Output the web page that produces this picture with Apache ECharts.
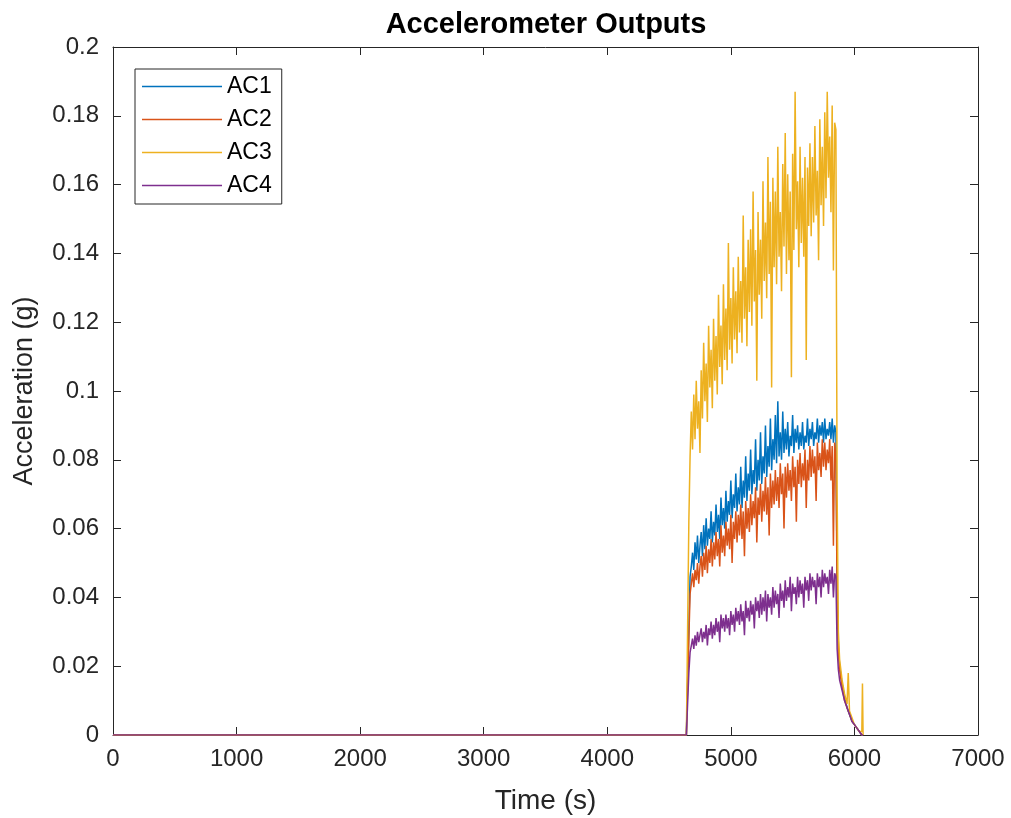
<!DOCTYPE html>
<html>
<head>
<meta charset="utf-8">
<title>Accelerometer Outputs</title>
<script src="https://cdn.jsdelivr.net/npm/echarts@6/dist/echarts.min.js"></script>
<style>
  html, body { margin: 0; padding: 0; background: #fff; }
  #chart { width: 1011px; height: 818px; }
</style>
</head>
<body>
<div id="chart"></div>
<script>
// idle period before the run (all sensors at zero)
const idleTime = [0, 4640, 4650];
const idleValue = [0, 0, 0];

// active period, sampled every 10 s from 4660 s to 5850 s
const runStart = 4660;
const runStep = 10;

const ac1Run = [
  0.031, 0.046, 0.049, 0.053, 0.048, 0.056, 0.051, 0.058, 0.050, 0.055,
  0.059, 0.052, 0.061, 0.054, 0.063, 0.055, 0.060, 0.057, 0.065, 0.056,
  0.062, 0.058, 0.067, 0.059, 0.064, 0.057, 0.069, 0.061, 0.066, 0.060,
  0.071, 0.062, 0.068, 0.064, 0.074, 0.063, 0.070, 0.066, 0.076, 0.065,
  0.072, 0.067, 0.078, 0.066, 0.074, 0.069, 0.081, 0.068, 0.076, 0.071,
  0.083, 0.070, 0.077, 0.073, 0.086, 0.071, 0.080, 0.074, 0.088, 0.073,
  0.081, 0.076, 0.090, 0.075, 0.084, 0.078, 0.092, 0.077, 0.086, 0.080,
  0.093, 0.079, 0.097, 0.081, 0.088, 0.080, 0.094, 0.082, 0.089, 0.083,
  0.091, 0.081, 0.087, 0.084, 0.093, 0.082, 0.089, 0.085, 0.090, 0.083,
  0.088, 0.084, 0.091, 0.083, 0.087, 0.085, 0.092, 0.084, 0.089, 0.086,
  0.091, 0.084, 0.088, 0.086, 0.092, 0.085, 0.090, 0.087, 0.091, 0.085,
  0.092, 0.086, 0.089, 0.087, 0.091, 0.086, 0.092, 0.085, 0.090, 0.088
];
const ac2Run = [
  0.028, 0.041, 0.044, 0.047, 0.043, 0.048, 0.045, 0.050, 0.044, 0.049,
  0.052, 0.046, 0.053, 0.048, 0.055, 0.047, 0.054, 0.050, 0.057, 0.049,
  0.056, 0.051, 0.059, 0.052, 0.057, 0.049, 0.061, 0.053, 0.058, 0.052,
  0.062, 0.055, 0.060, 0.054, 0.064, 0.050, 0.062, 0.057, 0.065, 0.056,
  0.064, 0.058, 0.067, 0.057, 0.065, 0.052, 0.068, 0.060, 0.066, 0.059,
  0.070, 0.061, 0.068, 0.063, 0.072, 0.056, 0.069, 0.064, 0.073, 0.062,
  0.071, 0.065, 0.075, 0.064, 0.072, 0.058, 0.076, 0.066, 0.074, 0.067,
  0.077, 0.068, 0.075, 0.066, 0.079, 0.070, 0.076, 0.060, 0.078, 0.069,
  0.079, 0.071, 0.077, 0.068, 0.081, 0.072, 0.078, 0.062, 0.080, 0.073,
  0.082, 0.072, 0.079, 0.074, 0.083, 0.066, 0.080, 0.074, 0.084, 0.075,
  0.083, 0.076, 0.081, 0.068, 0.085, 0.077, 0.082, 0.075, 0.086, 0.078,
  0.085, 0.077, 0.083, 0.079, 0.086, 0.074, 0.084, 0.055, 0.085, 0.081
];
const ac3Run = [
  0.062, 0.081, 0.094, 0.083, 0.099, 0.086, 0.103, 0.089, 0.097, 0.082,
  0.106, 0.092, 0.114, 0.097, 0.108, 0.091, 0.119, 0.101, 0.112, 0.095,
  0.121, 0.103, 0.116, 0.099, 0.128, 0.107, 0.119, 0.102, 0.131, 0.109,
  0.124, 0.106, 0.143, 0.112, 0.127, 0.108, 0.136, 0.115, 0.129, 0.111,
  0.139, 0.117, 0.132, 0.114, 0.151, 0.121, 0.136, 0.113, 0.144, 0.123,
  0.147, 0.119, 0.158, 0.126, 0.141, 0.103, 0.152, 0.128, 0.144, 0.121,
  0.161, 0.132, 0.149, 0.127, 0.168, 0.134, 0.155, 0.101, 0.162, 0.136,
  0.158, 0.131, 0.171, 0.139, 0.152, 0.129, 0.166, 0.142, 0.175, 0.134,
  0.163, 0.138, 0.158, 0.104, 0.169, 0.141, 0.187, 0.147, 0.161, 0.136,
  0.171, 0.143, 0.162, 0.139, 0.168, 0.109, 0.165, 0.148, 0.172, 0.145,
  0.168, 0.149, 0.177, 0.151, 0.164, 0.138, 0.179, 0.154, 0.171, 0.148,
  0.181, 0.156, 0.187, 0.162, 0.174, 0.152, 0.183, 0.135, 0.178, 0.176
];
const ac4Run = [
  0.018, 0.024, 0.026, 0.028, 0.025, 0.029, 0.026, 0.030, 0.027, 0.029,
  0.031, 0.027, 0.030, 0.028, 0.032, 0.026, 0.031, 0.029, 0.033, 0.028,
  0.032, 0.029, 0.034, 0.030, 0.033, 0.027, 0.035, 0.031, 0.034, 0.030,
  0.035, 0.031, 0.034, 0.029, 0.036, 0.032, 0.035, 0.030, 0.037, 0.033,
  0.036, 0.032, 0.038, 0.033, 0.036, 0.029, 0.039, 0.034, 0.037, 0.033,
  0.039, 0.035, 0.038, 0.031, 0.040, 0.036, 0.039, 0.034, 0.041, 0.035,
  0.040, 0.036, 0.042, 0.033, 0.041, 0.037, 0.040, 0.035, 0.043, 0.037,
  0.042, 0.038, 0.041, 0.034, 0.044, 0.039, 0.042, 0.037, 0.045, 0.039,
  0.043, 0.040, 0.046, 0.036, 0.044, 0.041, 0.043, 0.038, 0.046, 0.040,
  0.045, 0.041, 0.044, 0.037, 0.046, 0.042, 0.045, 0.039, 0.047, 0.042,
  0.046, 0.043, 0.045, 0.038, 0.047, 0.043, 0.046, 0.040, 0.048, 0.043,
  0.047, 0.044, 0.046, 0.041, 0.048, 0.044, 0.049, 0.040, 0.047, 0.046
];

// shut-down decay
const tailTime = [5860, 5870, 5880, 5900, 5920, 5940, 5950, 5960, 5980, 6000, 6020, 6040, 6060, 6065, 6070];
const ac1Tail = [0.045, 0.026, 0.020, 0.015, 0.011, 0.008, 0.007, 0.006, 0.004, 0.003, 0.002, 0.001, 0, 0, 0];
const ac2Tail = [0.040, 0.024, 0.019, 0.014, 0.010, 0.008, 0.007, 0.006, 0.004, 0.003, 0.002, 0.001, 0, 0, 0];
const ac3Tail = [0.070, 0.030, 0.022, 0.016, 0.012, 0.009, 0.018, 0.007, 0.005, 0.003, 0.002, 0.001, 0.001, 0.015, 0];
const ac4Tail = [0.025, 0.019, 0.016, 0.013, 0.010, 0.008, 0.007, 0.006, 0.004, 0.003, 0.002, 0.001, 0, 0, 0];

const seriesNames = ['AC1', 'AC2', 'AC3', 'AC4'];
const seriesColors = ['#0072BD', '#D95319', '#EDB120', '#7E2F8E'];
const xTicks = { min: 0, max: 7000, interval: 1000 };
const yTicks = { min: 0, max: 0.2, interval: 0.02 };

function buildSeries(run, tail) {
  const pts = [];
  idleTime.forEach((t, i) => pts.push([t, idleValue[i]]));
  run.forEach((v, i) => pts.push([runStart + i * runStep, v]));
  tailTime.forEach((t, i) => pts.push([t, tail[i]]));
  return pts;
}

const allData = [
  buildSeries(ac1Run, ac1Tail),
  buildSeries(ac2Run, ac2Tail),
  buildSeries(ac3Run, ac3Tail),
  buildSeries(ac4Run, ac4Tail)
];

const font = 'Liberation Sans, Arial, sans-serif';
const axisColor = '#262626';

const chart = echarts.init(document.getElementById('chart'));

const option = {
  animation: false,
  backgroundColor: '#fff',
  title: {
    text: 'Accelerometer Outputs',
    left: 541,
    top: 5,
    textAlign: 'center',
    textStyle: { fontFamily: font, fontSize: 29, fontWeight: 'bold', color: '#000' }
  },
  legend: {
    data: seriesNames,
    orient: 'vertical',
    left: 135,
    top: 69,
    padding: [6, 10, 7, 7],
    itemGap: 10,
    itemWidth: 80,
    itemHeight: 1.5,
    icon: 'rect',
    borderColor: axisColor,
    borderWidth: 1,
    backgroundColor: '#fff',
    textStyle: { fontFamily: font, fontSize: 23, color: '#000', lineHeight: 23 }
  },
  grid: { left: 113, right: 33, top: 47, bottom: 83, containLabel: false, outerBoundsMode: 'none' },
  xAxis: [
    {
      type: 'value',
      min: xTicks.min, max: xTicks.max, interval: xTicks.interval,
      name: 'Time (s)',
      nameLocation: 'middle',
      nameGap: 52,
      nameTextStyle: { fontFamily: font, fontSize: 28, color: axisColor },
      axisLine: { onZero: false, lineStyle: { color: axisColor, width: 1 } },
      axisTick: { inside: true, length: 8, lineStyle: { color: axisColor } },
      axisLabel: { fontFamily: font, fontSize: 24, color: axisColor, margin: 12,
                   formatter: v => String(v) },
      splitLine: { show: false }
    },
    {
      type: 'value',
      position: 'top',
      min: xTicks.min, max: xTicks.max, interval: xTicks.interval,
      axisLine: { show: true, onZero: false, lineStyle: { color: axisColor, width: 1 } },
      axisTick: { show: true, inside: true, length: 8, lineStyle: { color: axisColor } },
      axisLabel: { show: false },
      splitLine: { show: false }
    }
  ],
  yAxis: [
    {
      type: 'value',
      min: yTicks.min, max: yTicks.max, interval: yTicks.interval,
      name: 'Acceleration (g)',
      nameLocation: 'middle',
      nameGap: 75,
      nameTextStyle: { fontFamily: font, fontSize: 27, color: axisColor },
      axisLine: { show: true, onZero: false, lineStyle: { color: axisColor, width: 1 } },
      axisTick: { show: true, inside: true, length: 8, lineStyle: { color: axisColor } },
      axisLabel: { fontFamily: font, fontSize: 24, color: axisColor, margin: 14 },
      splitLine: { show: false }
    },
    {
      type: 'value',
      position: 'right',
      min: yTicks.min, max: yTicks.max, interval: yTicks.interval,
      axisLine: { show: true, onZero: false, lineStyle: { color: axisColor, width: 1 } },
      axisTick: { show: true, inside: true, length: 8, lineStyle: { color: axisColor } },
      axisLabel: { show: false },
      splitLine: { show: false }
    }
  ],
  series: seriesNames.map((name, i) => ({
    name: name,
    type: 'line',
    data: allData[i],
    showSymbol: false,
    symbol: 'none',
    color: seriesColors[i],
    lineStyle: { width: 1.5, color: seriesColors[i] },
    z: 2 + i
  }))
};

chart.setOption(option);
</script>
</body>
</html>
